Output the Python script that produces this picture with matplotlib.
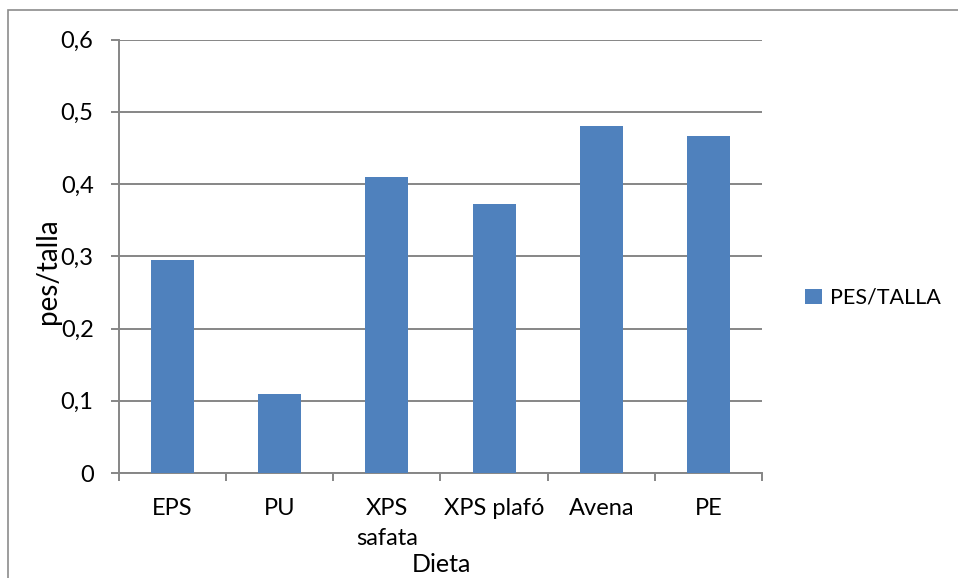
import matplotlib
matplotlib.use("Agg")
import matplotlib.pyplot as plt
from matplotlib.patches import Rectangle, Patch

plt.rcParams['font.family'] = ['Lato', 'DejaVu Sans']

categories = ["EPS", "PU", "XPS\nsafata", "XPS plafó", "Avena", "PE"]
pes_talla = [0.295, 0.110, 0.410, 0.373, 0.480, 0.467]
y_ticks = [0, 0.1, 0.2, 0.3, 0.4, 0.5, 0.6]
y_tick_labels = ["0", "0,1", "0,2", "0,3", "0,4", "0,5", "0,6"]
series_name = "PES/TALLA"

W, H = 958, 578
fig = plt.figure(figsize=(W / 100, H / 100), dpi=100)
fig.patch.set_facecolor("white")

# chart-area frame (runs off the right and bottom edges)
frame = Rectangle((8 / W, -0.05), 1.2, 1 - 10 / H + 0.05, transform=fig.transFigure,
                  fill=False, edgecolor="#8c8c8c", linewidth=1.2, clip_on=False)
fig.patches.append(frame)

left, right, top, bottom = 119, 762, 39.5, 473
ax = fig.add_axes([left / W, 1 - bottom / H, (right - left) / W, (bottom - top) / H])

bar_color = "#4f81bd"
grid_color = "#868686"
x = list(range(len(categories)))
ax.bar(x, pes_talla, width=0.4, color=bar_color, zorder=3)

ax.set_xlim(-0.5, len(categories) - 0.5)
ax.set_ylim(0, 0.6)
ax.set_yticks(y_ticks)
ax.set_yticklabels(y_tick_labels, fontsize=17)
ax.yaxis.grid(True, color=grid_color, linewidth=1.4, zorder=0)
ax.set_axisbelow(True)

ax.set_xticks(x)
ax.set_xticklabels(categories, fontsize=17, linespacing=1.55)
ax.tick_params(axis="x", length=0, pad=18)
ax.set_xticks([i - 0.5 for i in range(len(categories) + 1)], minor=True)
ax.tick_params(axis="x", which="minor", length=5.8, width=1.4, color=grid_color)
ax.tick_params(axis="y", length=5.8, width=1.4, color=grid_color, pad=12.5)

for s in ["top", "right"]:
    ax.spines[s].set_visible(False)
for s in ["left", "bottom"]:
    ax.spines[s].set_color(grid_color)
    ax.spines[s].set_linewidth(1.4)

# axis titles
fig.text(441 / W, 1 - 572 / H, "Dieta", fontsize=18, ha="center", va="baseline")
fig.text(48 / W, 1 - 271 / H, "pes/talla", fontsize=20, rotation=90,
         ha="center", va="center")

handle = Patch(facecolor=bar_color, edgecolor="none")
fig.legend([handle], [series_name], loc="center left",
           bbox_to_anchor=(786 / W, 1 - 298 / H), frameon=False, fontsize=15.5,
           handlelength=0.75, handleheight=0.75, handletextpad=0.4)

fig.savefig("out.png", dpi=100, facecolor="white")
